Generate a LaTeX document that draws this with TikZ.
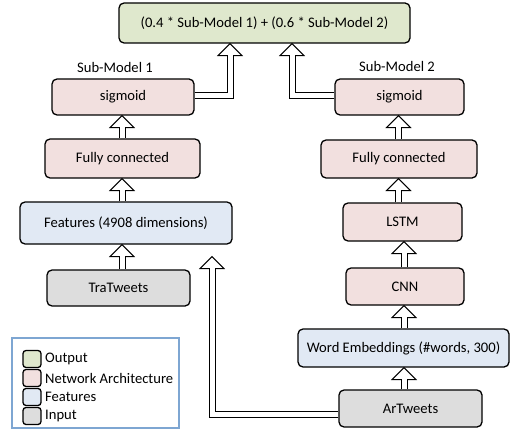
\documentclass[tikz,border=0pt]{standalone}
\usepackage{fontspec}
\setmainfont{Carlito}
\usetikzlibrary{calc}
\definecolor{cout}{HTML}{DFE8CD}
\definecolor{cnet}{HTML}{F2E0DF}
\definecolor{cfeat}{HTML}{E1E9F4}
\definecolor{cin}{HTML}{DDDDDD}
\definecolor{cleg}{HTML}{7EA6D2}
\tikzset{
  box/.style={draw=black, line width=1.3pt, rounded corners=5pt, minimum width=#1, inner sep=0pt, align=center},
  outbox/.style={box=#1, fill=cout},
  netbox/.style={box=#1, fill=cnet},
  featbox/.style={box=#1, fill=cfeat},
  inbox/.style={box=#1, fill=cin},
  shaft/.style={draw=black, line width=1pt, double=white, double distance=5pt},
  head/.style={draw=black, fill=white, line width=1pt, line join=miter},
  lbl/.style={inner sep=0pt},
  swatch/.style={draw=black, line width=1.3pt, rounded corners=3pt, minimum width=18pt, minimum height=17pt, inner sep=0pt},
}
% #1 start point, #2 tip point (arrow pointing up)
\newcommand\blkup[2]{%
  \path[head] #2 -- ++(-12,12) -- ++(24,0) -- cycle;
  \draw[shaft] #1 -- ($#2+(0,11.4)$);
}
\begin{document}
\begin{tikzpicture}[x=1pt, y=-1pt, font=\fontsize{14.6}{17}\selectfont]
\useasboundingbox (0,0) rectangle (510,430);
% boxes
\node[outbox=291pt, minimum height=40pt] (out) at (264.5,23) {(0.4 * Sub-Model 1) + (0.6 * Sub-Model 2)};
\node[netbox=142pt, minimum height=36pt] (sig1) at (123,97) {sigmoid};
\node[netbox=129pt, minimum height=36pt] (sig2) at (399.5,97) {sigmoid};
\node[netbox=155pt, minimum height=39pt] (fc1) at (122.5,158.5) {Fully connected};
\node[netbox=156pt, minimum height=38pt] (fc2) at (399,159) {Fully connected};
\node[featbox=212pt, minimum height=42pt] (feat) at (126,223) {Features (4908 dimensions)};
\node[netbox=119pt, minimum height=38pt] (lstm) at (402.5,222) {LSTM};
\node[inbox=143pt, minimum height=36pt] (tra) at (118.5,288) {TraTweets};
\node[netbox=118pt, minimum height=37pt] (cnn) at (405,286.5) {CNN};
\node[featbox=211pt, minimum height=38pt] (we) at (403.5,348) {Word Embeddings (\#words, 300)};
\node[inbox=143pt, minimum height=37pt] (ar) at (410.5,408.5) {ArTweets};
% labels
\node[lbl] (sm1) at (115,67) {Sub-Model 1};
\node[lbl] (sm2) at (397,66) {Sub-Model 2};
% column coordinates
\coordinate (xa) at (122,0);
\coordinate (xb) at (398.5,0);
\coordinate (xc) at (404,0);
\coordinate (xl) at (230,0);
\coordinate (xr) at (292,0);
\coordinate (xf) at (212,0);
% vertical arrows
\blkup{(xa |- tra.north)}{(xa |- feat.south)}
\blkup{(xa |- feat.north)}{(xa |- fc1.south)}
\blkup{(xa |- fc1.north)}{(xa |- sig1.south)}
\blkup{(xc |- ar.north)}{(xc |- we.south)}
\blkup{(xc |- we.north)}{(xc |- cnn.south)}
\blkup{(xc |- cnn.north)}{(xc |- lstm.south)}
\blkup{(xb |- lstm.north)}{(xb |- fc2.south)}
\blkup{(xb |- fc2.north)}{(xb |- sig2.south)}
% elbow arrows
\path[head] (xl |- out.south) -- ++(-12,12) -- ++(24,0) -- cycle;
\draw[shaft] ($(sig1.east)+(0,-1.5)$) -| ($(xl |- out.south)+(0,11.4)$);
\path[head] (xr |- out.south) -- ++(-12,12) -- ++(24,0) -- cycle;
\draw[shaft] ($(sig2.west)+(0,-1.5)$) -| ($(xr |- out.south)+(0,11.4)$);
\coordinate (ftip) at ($(xf |- feat.south)+(0,12)$);
\path[head] (ftip) -- ++(-12,12) -- ++(24,0) -- cycle;
\draw[shaft] ($(ar.west)+(0,5.5)$) -| ($(ftip)+(0,11.4)$);
% legend
\node[draw=cleg, line width=1.5pt, minimum width=167pt, minimum height=90pt, inner sep=0pt] (leg) at (95.5,383) {};
\node[swatch, fill=cout] (s1) at (32,359) {};
\node[swatch, fill=cnet] (s2) at (32,378) {};
\node[swatch, fill=cfeat] (s3) at (32,397) {};
\node[swatch, fill=cin] (s4) at (32,416) {};
\node[lbl, anchor=west] (l1) at (45,359) {Output};
\node[lbl, anchor=west] (l2) at (45,378) {Network Architecture};
\node[lbl, anchor=west] (l3) at (45,397) {Features};
\node[lbl, anchor=west] (l4) at (45,416) {Input};
\end{tikzpicture}
\end{document}
